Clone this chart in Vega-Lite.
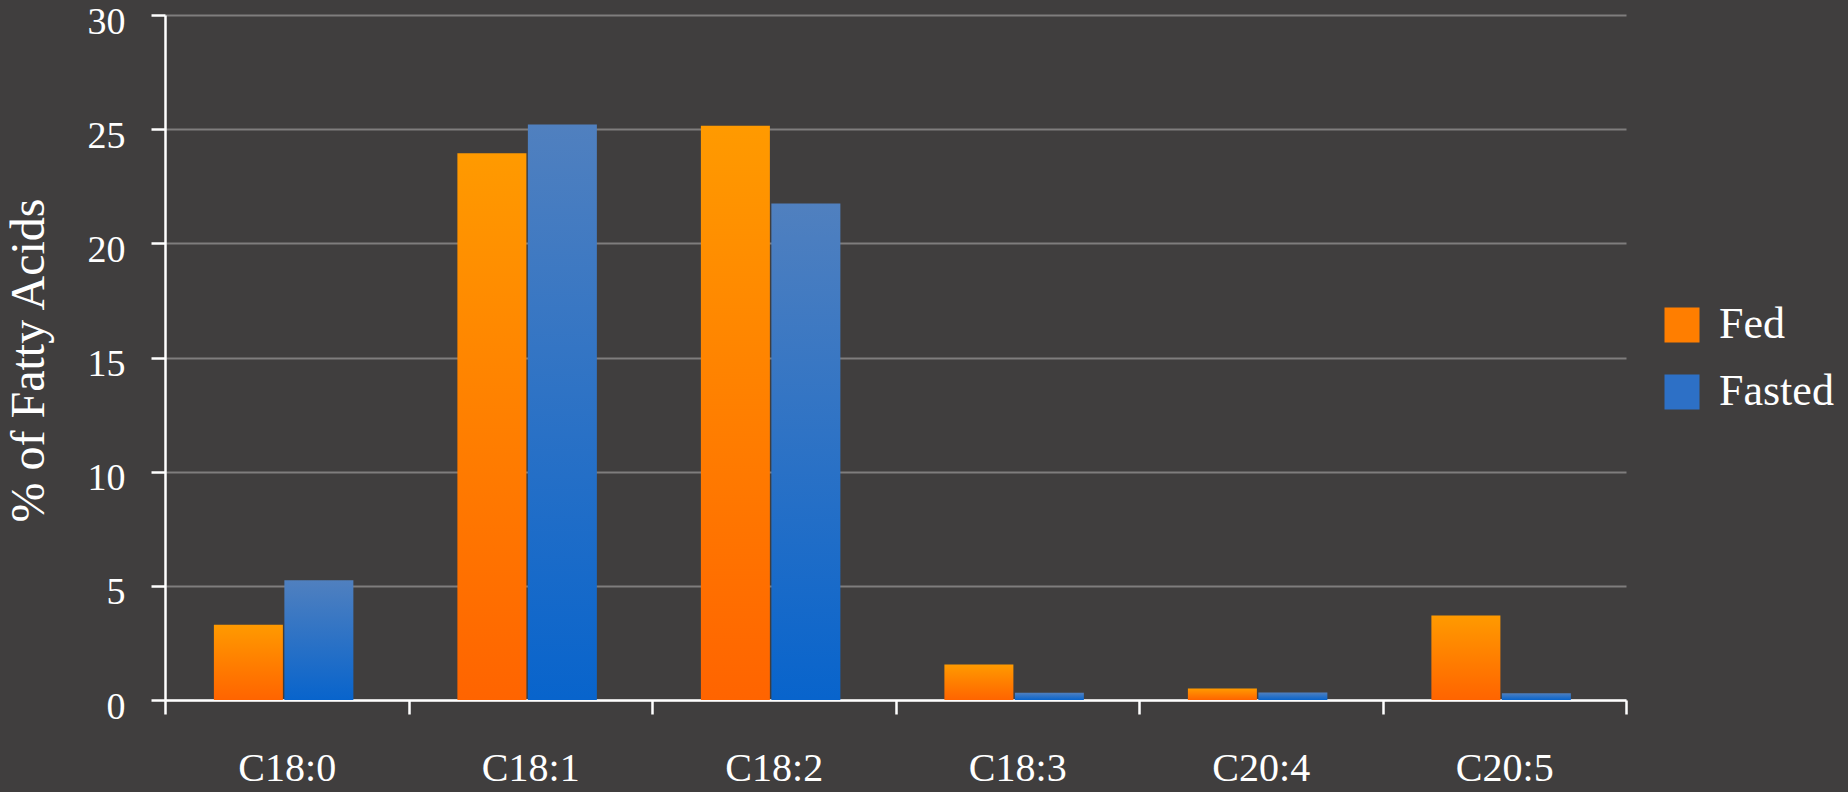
{
  "$schema": "https://vega.github.io/schema/vega-lite/v6.json",
  "autosize": "none",
  "width": 1461,
  "height": 685,
  "padding": {"left": 165, "top": 15, "right": 222, "bottom": 92},
  "background": "#403e3e",
  "config": {
    "view": {"stroke": null},
    "font": "Liberation Serif"
  },
  "data": {
    "values": [
      {"acid": "C18:0", "group": "Fed", "pct": 3.3},
      {"acid": "C18:0", "group": "Fasted", "pct": 5.25},
      {"acid": "C18:1", "group": "Fed", "pct": 23.95},
      {"acid": "C18:1", "group": "Fasted", "pct": 25.2},
      {"acid": "C18:2", "group": "Fed", "pct": 25.15},
      {"acid": "C18:2", "group": "Fasted", "pct": 21.75},
      {"acid": "C18:3", "group": "Fed", "pct": 1.55},
      {"acid": "C18:3", "group": "Fasted", "pct": 0.32},
      {"acid": "C20:4", "group": "Fed", "pct": 0.5},
      {"acid": "C20:4", "group": "Fasted", "pct": 0.33},
      {"acid": "C20:5", "group": "Fed", "pct": 3.7},
      {"acid": "C20:5", "group": "Fasted", "pct": 0.3}
    ]
  },
  "encoding": {
    "x": {
      "field": "acid",
      "type": "nominal",
      "sort": null,
      "scale": {"paddingInner": 0, "paddingOuter": 0},
      "axis": {
        "title": null,
        "labelAngle": 0,
        "tickBand": "extent",
        "domainColor": "#ffffff",
        "domainWidth": 2.5,
        "tickColor": "#ffffff",
        "tickWidth": 2.5,
        "tickSize": 14,
        "labelColor": "#ffffff",
        "labelFontSize": 40,
        "labelBaseline": "alphabetic",
        "labelPadding": 66
      }
    },
    "xOffset": {
      "field": "group",
      "type": "nominal",
      "scale": {"domain": ["Fed", "Fasted"], "paddingInner": 0.021, "paddingOuter": 0.738, "align": 0.47}
    },
    "y": {
      "field": "pct",
      "type": "quantitative",
      "scale": {"domain": [0, 30], "nice": false},
      "axis": {
        "title": "% of Fatty Acids",
        "values": [0, 5, 10, 15, 20, 25, 30],
        "grid": true,
        "gridColor": "#ffffff",
        "gridOpacity": 0.33,
        "gridWidth": 2,
        "domainColor": "#ffffff",
        "domainWidth": 2.5,
        "tickColor": "#ffffff",
        "tickWidth": 2.5,
        "tickSize": 14,
        "labelColor": "#ffffff",
        "labelFontSize": 38,
        "labelPadding": 26,
        "labelOffset": 7,
        "titleColor": "#ffffff",
        "titleFontSize": 48,
        "titleFontWeight": "normal",
        "titleBaseline": "alphabetic",
        "titleX": -122,
        "titleY": 345
      }
    }
  },
  "layer": [
    {
      "transform": [{"filter": "datum.group === 'Fed'"}],
      "mark": {
        "type": "bar",
        "strokeWidth": 0,
        "color": {
          "gradient": "linear", "x1": 0, "y1": 0, "x2": 0, "y2": 1,
          "stops": [{"offset": 0, "color": "#ff9a00"}, {"offset": 1, "color": "#ff6400"}]
        }
      }
    },
    {
      "transform": [{"filter": "datum.group === 'Fasted'"}],
      "mark": {
        "type": "bar",
        "strokeWidth": 0,
        "color": {
          "gradient": "linear", "x1": 0, "y1": 0, "x2": 0, "y2": 1,
          "stops": [{"offset": 0, "color": "#5080bf"}, {"offset": 1, "color": "#0864cc"}]
        }
      }
    },
    {
      "mark": {"type": "bar", "opacity": 0},
      "encoding": {
        "color": {
          "field": "group",
          "type": "nominal",
          "scale": {"domain": ["Fed", "Fasted"], "range": ["#ff7e00", "#2d70c6"]},
          "legend": {
            "title": null,
            "orient": "none",
            "legendX": 1495,
            "legendY": 288,
            "padding": 0,
            "symbolType": "square",
            "symbolSize": 1225,
            "symbolStrokeWidth": 0,
            "symbolOpacity": 1,
            "labelColor": "#ffffff",
            "labelFontSize": 44,
            "labelOffset": 15,
            "rowPadding": 23,
            "labelLimit": 300
          }
        }
      }
    }
  ]
}
